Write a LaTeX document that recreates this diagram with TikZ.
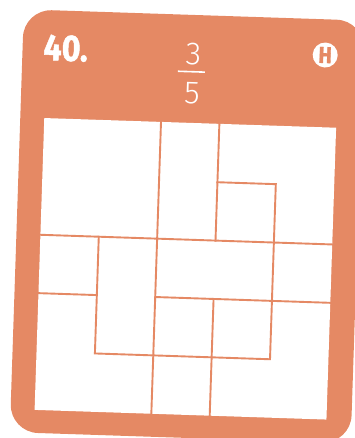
\documentclass[tikz,border=0pt]{standalone}
\usepackage{fontspec}
\newfontfamily\numfont[FakeStretch=0.87, FakeBold=1.2]{Fira Sans}
\newfontfamily\fracfont{Fira Sans Light}
\definecolor{cardc}{RGB}{229,137,100}
\tikzset{
  gridline/.style={draw=cardc, line width=1.9pt, line cap=rect},
  txt/.style={inner sep=0pt, outer sep=0pt, transform shape}
}
\begin{document}
\begin{tikzpicture}[x=1pt,y=-1pt]
\useasboundingbox (0,0) rectangle (354,438);
\begin{scope}[shift={(185.35,268.8)}, rotate=-1.9]
  \fill[cardc, rounded corners=28pt] (-170,-254) rectangle (171,169);
  \fill[white] (-146,-146) rectangle (146,146);
  \begin{scope}[shift={(-146,-146)}, x=58.4pt, y=-58.4pt]
    \draw[gridline] (3,1) -- (4,1) -- (4,4) -- (1,4) -- (1,2);
    \draw[gridline] (0,2) -- (5,2);
    \draw[gridline] (0,3) -- (1,3);
    \draw[gridline] (2,3) -- (5,3);
    \draw[gridline] (2,0) -- (2,5);
    \draw[gridline] (3,0) -- (3,2);
    \draw[gridline] (3,3) -- (3,5);
  \end{scope}
  \node[txt, anchor=base west, text=white, font=\numfont\bfseries\fontsize{37}{37}\selectfont] (num) at (-149,-204) {40.};
  \node[txt, text=white, font=\fracfont\fontsize{32}{32}\selectfont] (numer) at (1.0,-215.0) {3};
  \node[txt, text=white, font=\fracfont\fontsize{32}{32}\selectfont] (denom) at (0.8,-175.4) {5};
  \draw[white, line width=1.6pt] (-14,-197.2) -- (13,-197.2);
  \node[circle, fill=white, minimum size=25pt, inner sep=0pt, transform shape] (lvl) at (132.7,-218.3) {};
  \node[txt, text=cardc, font=\numfont\bfseries\fontsize{23}{23}\selectfont] (lvltxt) at (lvl.center) {H};
\end{scope}
\end{tikzpicture}
\end{document}
